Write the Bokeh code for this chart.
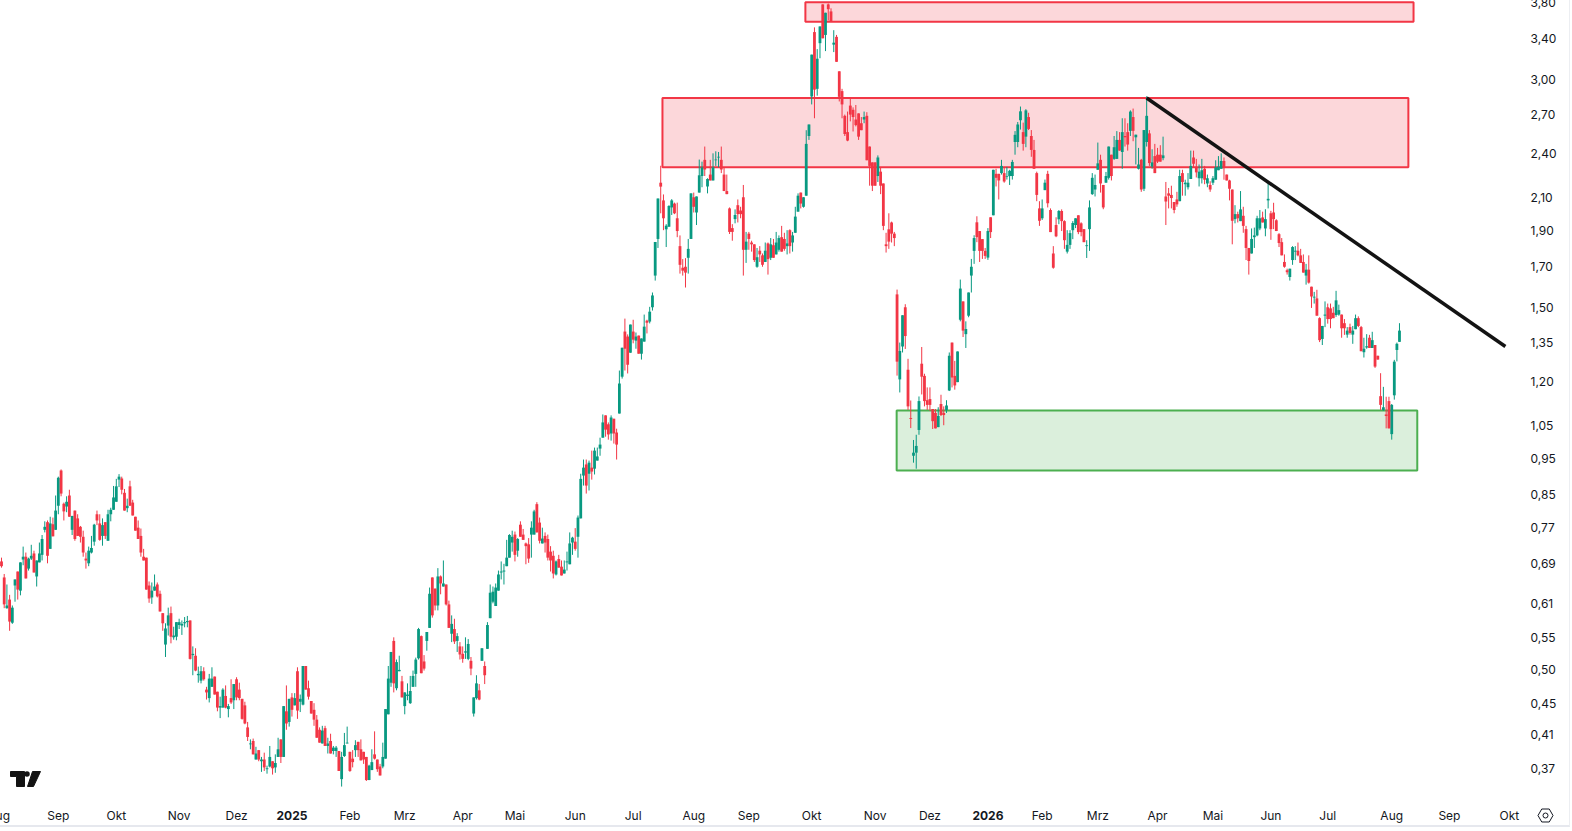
import numpy as np
from bokeh.plotting import figure
from bokeh.models import Range1d, FixedTicker
from bokeh.core.properties import value
from bokeh.embed import file_html
from bokeh.resources import INLINE

# each bar: (open, high, low, close)
aug24 = [(.694,.702,.681,.684),(.661,.668,.602,.609),(.602,.647,.601,.607),(.618,.627,.562,.578),(.576,.607,.574,.603),(.645,.657,.614,.657),(.673,.673,.618,.637),(.635,.692,.626,.692),(.698,.726,.686,.704),(.704,.713,.659,.659),(.679,.702,.675,.700),(.700,.730,.697,.706),(.711,.717,.671,.671),(.663,.696,.643,.696),(.692,.735,.692,.711),(.708,.752,.696,.743),(.764,.784,.758,.771),(.782,.786,.690,.706),(.721,.795,.721,.779),(.777,.793,.749,.749),(.764,.848,.764,.810)]
sep24 = [(.822,.898,.801,.895),(.915,.918,.846,.853),(.827,.830,.786,.808),(.820,.846,.806,.832),(.848,.863,.795,.795),(.764,.797,.752,.797),(.810,.810,.739,.743),(.791,.801,.750,.750),(.771,.773,.735,.748),(.748,.762,.704,.713),(.700,.713,.679,.696),(.690,.726,.684,.717),(.713,.750,.711,.723),(.737,.778,.728,.776),(.801,.810,.775,.786),(.779,.801,.739,.741),(.750,.791,.728,.775),(.782,.782,.743,.750),(.739,.812,.739,.801),(.801,.817,.784,.812),(.812,.873,.812,.843)]
okt24 = [(.832,.892,.832,.872),(.890,.905,.870,.898),(.893,.898,.851,.863),(.855,.865,.810,.810),(.816,.840,.806,.822),(.872,.887,.822,.822),(.830,.837,.798,.798),(.795,.795,.762,.762),(.769,.786,.743,.743),(.750,.767,.704,.713),(.704,.721,.696,.696),(.702,.702,.637,.637),(.645,.653,.612,.620),(.622,.651,.610,.635),(.635,.667,.635,.643),(.647,.651,.622,.624),(.629,.635,.596,.596),(.593,.593,.562,.575),(.539,.575,.519,.566),(.571,.603,.554,.589),(.593,.605,.541,.552),(.551,.569,.547,.554),(.552,.577,.546,.577)]
nov24 = [(.572,.583,.565,.577),(.571,.580,.555,.574),(.575,.586,.568,.577),(.577,.588,.568,.579),(.580,.580,.515,.516),(.522,.536,.491,.524),(.521,.533,.497,.498),(.491,.504,.480,.493),(.483,.505,.479,.497),(.497,.503,.483,.485),(.470,.474,.456,.466),(.458,.493,.452,.486),(.474,.503,.474,.486),(.489,.489,.463,.463),(.467,.467,.440,.445),(.445,.460,.431,.447),(.445,.472,.445,.470),(.461,.476,.444,.445),(.443,.450,.432,.447),(.458,.485,.450,.452),(.455,.478,.443,.478)]
dez24 = [(.485,.488,.455,.459),(.470,.480,.455,.458),(.457,.457,.429,.430),(.448,.453,.423,.424),(.419,.426,.402,.407),(.398,.404,.392,.399),(.402,.405,.386,.386),(.380,.395,.380,.387),(.391,.391,.378,.380),(.378,.383,.366,.380),(.380,.388,.367,.371),(.369,.373,.364,.370),(.372,.396,.371,.383),(.378,.378,.363,.370),(.371,.386,.365,.376),(.383,.406,.383,.392),(.404,.404,.376,.383),(.383,.447,.383,.447),(.440,.476,.416,.424),(.426,.457,.420,.457)]
jan25 = [(.459,.465,.433,.442),(.448,.465,.448,.458),(.497,.503,.430,.441),(.453,.463,.439,.457),(.449,.505,.448,.505),(.505,.505,.470,.470),(.472,.483,.456,.460),(.454,.454,.437,.437),(.442,.451,.421,.429),(.429,.435,.406,.406),(.416,.419,.400,.400),(.399,.421,.399,.415),(.418,.421,.396,.396),(.396,.406,.387,.399),(.402,.411,.387,.387),(.390,.396,.386,.394),(.390,.396,.383,.394),(.390,.390,.367,.367),(.358,.389,.350,.383),(.384,.412,.383,.397),(.399,.420,.399,.400)]
feb25 = [(.389,.389,.366,.367),(.381,.391,.371,.377),(.391,.403,.383,.397),(.401,.401,.383,.391),(.392,.404,.379,.379),(.389,.389,.375,.380),(.383,.383,.356,.357),(.357,.374,.357,.373),(.368,.392,.368,.377),(.386,.414,.380,.381),(.380,.380,.366,.369),(.372,.375,.362,.362),(.372,.400,.370,.383),(.381,.443,.381,.443),(.436,.505,.436,.486),(.480,.527,.474,.527),(.545,.551,.466,.479),(.472,.515,.469,.511),(.497,.521,.497,.499),(.482,.490,.459,.459)]
mrz25 = [(.447,.466,.436,.466),(.461,.479,.455,.463),(.451,.490,.450,.468),(.474,.498,.474,.490),(.493,.518,.474,.515),(.517,.567,.515,.565),(.553,.554,.494,.494),(.512,.522,.498,.501),(.545,.560,.529,.560),(.567,.641,.567,.629),(.661,.661,.585,.589),(.639,.639,.598,.607),(.607,.680,.598,.663),(.663,.665,.628,.649),(.643,.696,.643,.649),(.647,.647,.607,.609),(.609,.616,.567,.567),(.557,.589,.543,.574),(.565,.583,.540,.544),(.545,.558,.527,.553),(.536,.543,.515,.523)]
apr25 = [(.524,.536,.510,.516),(.526,.551,.516,.528),(.516,.548,.514,.540),(.513,.519,.491,.501),(.437,.459,.433,.459),(.458,.491,.456,.479),(.469,.478,.455,.456),(.513,.533,.513,.533),(.505,.512,.478,.491),(.532,.577,.532,.572),(.584,.647,.584,.631),(.614,.643,.611,.633),(.606,.649,.606,.641),(.635,.675,.635,.667),(.671,.694,.657,.673),(.673,.689,.647,.675),(.684,.741,.684,.702),(.702,.754,.702,.752),(.735,.762,.715,.748)]
mai25 = [(.753,.760,.694,.708),(.717,.745,.704,.743),(.776,.784,.748,.748),(.753,.766,.741,.741),(.733,.735,.688,.727),(.731,.745,.691,.700),(.753,.784,.702,.769),(.753,.812,.753,.808),(.826,.831,.758,.758),(.781,.793,.733,.739),(.733,.769,.733,.744),(.750,.758,.713,.735),(.743,.753,.696,.702),(.715,.727,.673,.696),(.706,.717,.659,.669),(.667,.696,.665,.694),(.699,.708,.681,.681),(.683,.696,.665,.665),(.669,.696,.669,.677),(.692,.715,.675,.694),(.688,.758,.688,.733),(.735,.748,.708,.746)]
jun25 = [(.737,.768,.717,.721),(.748,.798,.702,.793),(.791,.906,.791,.892),(.901,.946,.874,.923),(.932,.946,.853,.874),(.906,.943,.861,.937),(.923,.972,.890,.912),(.920,.981,.904,.972),(.943,.981,.943,.955),(.978,1.011,.957,.990),(1.011,1.085,1.011,1.059),(1.082,1.082,1.014,1.036),(1.053,1.059,1.005,1.021),(1.024,1.082,1.002,1.075),(1.071,1.071,.993,1.024),(1.027,1.039,.946,.990),(1.088,1.240,1.088,1.192),(1.217,1.329,1.210,1.329),(1.396,1.452,1.240,1.325),(1.375,1.384,1.229,1.262),(1.309,1.426,1.309,1.426)]
jul25 = [(1.396,1.447,1.347,1.362),(1.358,1.392,1.325,1.375),(1.379,1.379,1.305,1.305),(1.305,1.367,1.282,1.367),(1.354,1.470,1.354,1.417),(1.443,1.447,1.388,1.434),(1.439,1.505,1.431,1.483),(1.503,1.572,1.488,1.558),(1.655,1.833,1.63,1.833),(1.850,2.092,1.80,2.092),(2.195,2.311,2.00,2.169),(2.08,2.118,1.90,1.97),(1.905,1.935,1.805,1.926),(1.92,2.05,1.92,2.045),(2.036,2.088,1.99,2.08),(2.06,2.066,1.995,2.0),(1.97,2.066,1.86,1.895),(1.81,1.87,1.665,1.71),(1.695,1.74,1.655,1.68),(1.70,1.745,1.596,1.67),(1.747,1.85,1.665,1.795),(1.85,2.125,1.85,2.125)]
aug25 = [(2.10,2.13,2.005,2.04),(2.005,2.105,1.93,2.105),(2.13,2.355,2.13,2.245),(2.24,2.34,2.165,2.30),(2.353,2.45,2.24,2.285),(2.17,2.225,2.125,2.22),(2.25,2.353,2.21,2.21),(2.21,2.40,2.21,2.30),(2.35,2.415,2.31,2.355),(2.37,2.41,2.30,2.375),(2.353,2.45,2.26,2.285),(2.25,2.30,2.14,2.14),(2.14,2.25,2.12,2.12),(2.03,2.036,1.878,1.89),(1.912,1.935,1.84,1.89),(1.965,2.024,1.94,1.99),(2.05,2.086,1.945,1.995),(2.017,2.04,1.97,1.995),(2.10,2.18,1.655,1.79),(1.79,1.89,1.72,1.835)]
sep25 = [(1.88,1.89,1.79,1.85),(1.83,1.84,1.78,1.82),(1.82,1.82,1.725,1.735),(1.70,1.80,1.695,1.75),(1.785,1.81,1.725,1.765),(1.76,1.77,1.70,1.71),(1.725,1.83,1.725,1.785),(1.825,1.83,1.66,1.74),(1.747,1.855,1.735,1.82),(1.815,1.85,1.747,1.747),(1.765,1.89,1.765,1.83),(1.79,1.87,1.78,1.855),(1.86,1.925,1.78,1.78),(1.85,1.885,1.785,1.795),(1.81,1.90,1.765,1.825),(1.90,1.905,1.77,1.81),(1.83,1.89,1.78,1.87),(1.885,2.04,1.885,1.98),(2.01,2.125,2.01,2.11),(2.13,2.13,2.03,2.06),(2.04,2.10,2.035,2.10),(2.11,2.575,2.11,2.47),(2.53,2.62,2.50,2.62)]
okt25 = [(2.853,3.24,2.785,3.24),(3.47,3.52,2.67,2.913),(2.92,3.295,2.86,3.20),(3.355,3.53,3.205,3.53),(3.775,3.775,3.405,3.405),(3.44,3.68,3.275,3.68),(3.775,3.785,3.595,3.72),(3.695,3.73,3.585,3.585),(3.34,3.49,3.265,3.36),(3.42,3.44,3.17,3.17),(3.08,3.08,2.81,2.85),(2.90,2.92,2.67,2.785),(2.69,2.70,2.53,2.545),(2.56,2.725,2.49,2.495),(2.775,2.835,2.645,2.70),(2.74,2.76,2.565,2.68),(2.66,2.78,2.605,2.615),(2.71,2.71,2.50,2.525),(2.63,2.68,2.575,2.575),(2.66,2.725,2.63,2.68),(2.69,2.72,2.35,2.35),(2.45,2.45,2.175,2.31),(2.335,2.335,2.14,2.175)]
nov25 = [(2.335,2.335,2.175,2.175),(2.24,2.385,2.20,2.37),(2.27,2.30,2.12,2.175),(2.19,2.19,1.90,1.925),(1.82,1.885,1.775,1.81),(1.905,2.0,1.795,1.835),(1.945,1.95,1.83,1.88),(1.88,1.89,1.81,1.855),(1.563,1.586,1.221,1.274),(1.207,1.35,1.16,1.316),(1.334,1.467,1.31,1.467),(1.503,1.517,1.324,1.377),(1.243,1.285,1.10,1.112),(1.073,1.132,1.041,1.07),(.957,1.004,.937,.966),(.966,1.02,.92,.986),(1.035,1.146,1.02,1.13),(1.266,1.332,1.153,1.217),(1.22,1.228,1.112,1.13),(1.133,1.178,1.10,1.117)]
dez25 = [(1.137,1.178,1.097,1.117),(1.103,1.103,1.038,1.063),(1.09,1.103,1.04,1.04),(1.044,1.109,1.044,1.08),(1.12,1.152,1.08,1.083),(1.09,1.112,1.05,1.083),(1.10,1.133,1.09,1.115),(1.167,1.31,1.165,1.297),(1.35,1.35,1.178,1.214),(1.22,1.277,1.17,1.185),(1.197,1.314,1.197,1.314),(1.447,1.635,1.44,1.591),(1.53,1.53,1.373,1.40),(1.385,1.44,1.328,1.407),(1.465,1.572,1.458,1.572),(1.655,1.741,1.572,1.70),(1.784,1.871,1.715,1.855),(1.946,1.982,1.832,1.86),(1.895,1.895,1.725,1.784),(1.849,1.849,1.741,1.784),(1.784,1.80,1.741,1.757)]
jan26 = [(1.748,1.912,1.736,1.895),(1.976,1.976,1.855,1.889),(1.988,2.283,1.988,2.283),(2.255,2.29,2.17,2.228),(2.255,2.255,2.086,2.21),(2.26,2.353,2.25,2.31),(2.26,2.303,2.195,2.203),(2.235,2.303,2.216,2.24),(2.24,2.283,2.18,2.276),(2.24,2.353,2.216,2.338),(2.484,2.568,2.39,2.539),(2.484,2.64,2.445,2.62),(2.654,2.767,2.58,2.727),(2.56,2.635,2.42,2.47),(2.525,2.745,2.445,2.735),(2.68,2.715,2.576,2.585),(2.53,2.576,2.375,2.425),(2.425,2.50,2.29,2.29),(2.26,2.27,2.075,2.115),(2.03,2.075,1.925,1.955)]
feb26 = [(1.97,2.086,1.96,2.03),(2.146,2.216,2.146,2.195),(2.255,2.276,2.036,2.062),(2.02,2.03,1.889,1.889),(1.77,1.81,1.69,1.695),(1.93,1.976,1.86,1.865),(1.964,2.02,1.935,2.014),(2.014,2.024,1.895,1.953),(1.953,1.958,1.795,1.843),(1.78,1.90,1.77,1.817),(1.817,1.90,1.795,1.883),(1.90,1.953,1.849,1.942),(1.93,1.97,1.912,1.97),(1.988,1.988,1.877,1.889),(1.94,1.946,1.865,1.889),(1.906,1.906,1.832,1.832),(1.81,1.843,1.746,1.815),(1.906,2.08,1.784,2.036),(2.12,2.26,2.115,2.228),(2.15,2.25,2.105,2.18)]
mrz26 = [(2.283,2.48,2.283,2.328),(2.353,2.39,2.13,2.19),(2.18,2.18,2.025,2.036),(2.195,2.268,2.195,2.24),(2.228,2.45,2.216,2.45),(2.39,2.39,2.21,2.24),(2.36,2.53,2.353,2.445),(2.36,2.568,2.36,2.50),(2.50,2.56,2.42,2.42),(2.41,2.67,2.29,2.56),(2.53,2.67,2.45,2.52),(2.56,2.63,2.42,2.465),(2.57,2.735,2.53,2.725),(2.68,2.75,2.49,2.57),(2.52,2.54,2.32,2.54),(2.29,2.44,2.285,2.32),(2.353,2.36,2.135,2.15),(2.155,2.576,2.14,2.576),(2.484,2.855,2.45,2.69),(2.55,2.576,2.31,2.33),(2.305,2.43,2.29,2.335),(2.38,2.47,2.26,2.26)]
apr26 = [(2.39,2.44,2.33,2.34),(2.39,2.46,2.34,2.34),(2.365,2.525,2.35,2.385),(2.105,2.20,1.93,2.073),(2.125,2.16,2.03,2.11),(2.115,2.175,2.03,2.095),(2.07,2.07,2.0,2.02),(2.086,2.135,2.04,2.055),(2.075,2.283,2.075,2.24),(2.26,2.283,2.11,2.20),(2.185,2.215,2.11,2.195),(2.165,2.26,2.15,2.195),(2.22,2.42,2.22,2.31),(2.37,2.42,2.30,2.325),(2.30,2.36,2.23,2.265),(2.225,2.32,2.17,2.27),(2.225,2.36,2.19,2.28),(2.29,2.31,2.185,2.215),(2.19,2.25,2.165,2.225),(2.18,2.205,2.135,2.15)]
mai26 = [(2.195,2.24,2.18,2.225),(2.215,2.35,2.215,2.30),(2.28,2.38,2.28,2.305),(2.29,2.40,2.29,2.345),(2.345,2.37,2.215,2.295),(2.25,2.25,2.21,2.21),(2.21,2.215,2.08,2.155),(2.15,2.15,1.82,1.955),(1.965,2.05,1.94,1.995),(1.995,2.01,1.945,1.97),(1.953,2.14,1.953,2.024),(1.985,2.04,1.885,1.925),(1.906,1.925,1.735,1.80),(1.80,1.80,1.66,1.73),(1.77,1.91,1.77,1.85),(1.86,1.915,1.80,1.87),(1.87,1.985,1.865,1.97),(1.91,2.02,1.90,1.97),(1.975,2.01,1.945,1.945),(1.91,2.025,1.865,1.965),(2.08,2.20,2.03,2.09)]
jun26 = [(2.0,2.015,1.845,1.906),(2.005,2.065,1.906,1.965),(1.958,1.964,1.895,1.895),(1.877,1.883,1.805,1.827),(1.832,1.855,1.76,1.76),(1.725,1.765,1.695,1.70),(1.682,1.69,1.66,1.672),(1.648,1.69,1.63,1.69),(1.735,1.81,1.71,1.805),(1.78,1.81,1.735,1.785),(1.785,1.83,1.755,1.76),(1.76,1.795,1.72,1.72),(1.725,1.765,1.67,1.67),(1.655,1.715,1.61,1.685),(1.685,1.76,1.615,1.62),(1.60,1.60,1.50,1.553),(1.548,1.575,1.52,1.552),(1.544,1.585,1.465,1.465),(1.454,1.458,1.352,1.36),(1.365,1.42,1.34,1.42),(1.465,1.53,1.415,1.47)]
jul26 = [(1.503,1.52,1.43,1.45),(1.498,1.52,1.41,1.45),(1.478,1.505,1.454,1.454),(1.468,1.58,1.46,1.535),(1.47,1.515,1.465,1.49),(1.47,1.47,1.37,1.41),(1.432,1.45,1.382,1.41),(1.383,1.415,1.37,1.40),(1.415,1.43,1.383,1.39),(1.383,1.42,1.345,1.40),(1.406,1.47,1.406,1.454),(1.454,1.462,1.415,1.42),(1.415,1.42,1.315,1.315),(1.311,1.37,1.29,1.325),(1.33,1.385,1.325,1.335),(1.37,1.382,1.328,1.328),(1.328,1.395,1.328,1.36),(1.34,1.34,1.25,1.255),(1.297,1.297,1.282,1.282),(1.147,1.23,1.10,1.117),(1.10,1.18,1.097,1.109),(1.085,1.145,1.04,1.08),(1.13,1.145,1.04,1.04)]
aug26 = [(1.022,1.12,1.005,1.117),(1.15,1.281,1.135,1.274),(1.32,1.35,1.275,1.345),(1.353,1.432,1.353,1.40)]

month_bars = [aug24,sep24,okt24,nov24,dez24,jan25,feb25,mrz25,apr25,mai25,jun25,jul25,aug25,sep25,okt25,nov25,dez25,jan26,feb26,mrz26,apr26,mai26,jun26,jul26,aug26]
month_start = [0,19.8,40.0,61.9,81.9,101.2,121.4,140.5,160.7,178.9,199.9,220.1,241.2,260.4,282.3,304.4,323.5,343.7,362.6,382.0,402.8,422.1,442.3,462.1,484.4,488.0]

month_ticks = [-1.0,19.8,40.0,61.9,81.9,121.4,140.5,160.7,178.9,199.9,220.1,241.2,260.4,282.3,304.4,323.5,362.6,382.0,402.8,422.1,442.3,462.1,484.4,504.5,525.4]
month_names = ["Aug","Sep","Okt","Nov","Dez","Feb","Mrz","Apr","Mai","Jun","Jul","Aug","Sep","Okt","Nov","Dez","Feb","Mrz","Apr","Mai","Jun","Jul","Aug","Sep","Okt"]
year_ticks = [101.2,343.7]
year_names = ["2025","2026"]

price_ticks = [3.80,3.40,3.00,2.70,2.40,2.10,1.90,1.70,1.50,1.35,1.20,1.05,0.95,0.85,0.77,0.69,0.61,0.55,0.50,0.45,0.41,0.37]
price_names = ["3,80","3,40","3,00","2,70","2,40","2,10","1,90","1,70","1,50","1,35","1,20","1,05","0,95","0,85","0,77","0,69","0,61","0,55","0,50","0,45","0,41","0,37"]

red_zone_left = [280.1,230.3]
red_zone_right = [492.0,490.2]
red_zone_top = [3.80,2.84]
red_zone_bottom = [3.58,2.30]
green_zone_left = [311.9]
green_zone_right = [493.3]
green_zone_top = [1.098]
green_zone_bottom = [0.915]
trend_x = [399.0,524.0]
trend_y = [2.84,1.334]

GREEN = "#089981"
RED = "#F23645"
INK = "#131722"

xs, opens, highs, lows, closes = [], [], [], [], []
for k, bars in enumerate(month_bars):
    pos = np.linspace(month_start[k], month_start[k+1], len(bars), endpoint=False)
    for x, (o, h, l, c) in zip(pos, bars):
        xs.append(float(x)); opens.append(o); highs.append(h); lows.append(l); closes.append(c)
xs = np.array(xs); opens = np.array(opens); highs = np.array(highs); lows = np.array(lows); closes = np.array(closes)

def px_x(v): return (v - 1) / 2.87
def px_y(v): return 3.8 * np.exp(-(v - 1.7) / 328.9)

p = figure(width=1590, height=847, x_range=Range1d(px_x(-20), px_x(1570)), y_range=Range1d(px_y(827), px_y(-20)),
           y_axis_type="log", y_axis_location="right", output_backend="svg", toolbar_location=None,
           min_border_left=0, min_border_top=0, min_border_right=0, min_border_bottom=0,
           background_fill_color="white", border_fill_color="white", outline_line_color=None,
           styles={"margin": "-20px 0 0 -20px", "border-bottom": "2px solid #e6e8ee", "border-right": "1px solid #eceef2"})
p.grid.visible = False

p.quad(left=red_zone_left, right=red_zone_right, top=red_zone_top, bottom=red_zone_bottom,
       fill_color=RED, fill_alpha=0.2, line_color=RED, line_width=2)
p.quad(left=green_zone_left, right=green_zone_right, top=green_zone_top, bottom=green_zone_bottom,
       fill_color="#4CAF50", fill_alpha=0.2, line_color="#4CAF50", line_width=2)

up = closes >= opens
for mask, col in ((up, GREEN), (~up, RED)):
    p.segment(xs[mask], highs[mask], xs[mask], lows[mask], line_color=col, line_width=1)
    p.vbar(x=xs[mask], width=0.98, top=np.maximum(opens, closes)[mask], bottom=np.minimum(opens, closes)[mask],
           fill_color=col, line_color=None)

p.line(trend_x, trend_y, line_color="#131313", line_width=3.5)

# logo mark and settings icon, placed relative to the chart frame
p.patch([px_x(v) for v in (10,24,24,16,16,10)], [px_y(v) for v in (771,771,786,786,776,776)], color="#131313")
p.patch([px_x(v) for v in (32,40,33,27)], [px_y(v) for v in (771,771,786,786)], color="#131313")
p.scatter([px_x(26.5)], [px_y(773.5)], size=5.5, color="#131313", line_color=None)
p.scatter([px_x(1545)], [px_y(815)], marker="hex", size=15, fill_color=None, line_color=INK, line_width=1)
p.scatter([px_x(1545)], [px_y(815)], marker="circle", size=5, fill_color=None, line_color=INK, line_width=1)

xax = p.xaxis[0]
xax.ticker = FixedTicker(ticks=month_ticks)
xax.major_label_overrides = dict(zip(month_ticks, month_names))
yax = p.yaxis[0]
yax.ticker = FixedTicker(ticks=price_ticks)
yax.major_label_overrides = dict(zip(price_ticks, price_names))
for ax in (xax, yax):
    ax.axis_line_color = None
    ax.major_tick_line_color = None
    ax.minor_tick_line_color = None
    ax.major_label_text_font = "Inter"
    ax.major_label_text_font_size = "12px"
    ax.major_label_text_color = INK
xax.major_label_standoff = -26
yax.major_label_standoff = -46

p.text(year_ticks, [px_y(815)] * 2, text=year_names, text_font=value("Inter"), text_font_size="12px",
       text_font_style="bold", text_color=INK, text_align="center", text_baseline="middle")

open("out.html", "w").write(file_html(p, INLINE))
